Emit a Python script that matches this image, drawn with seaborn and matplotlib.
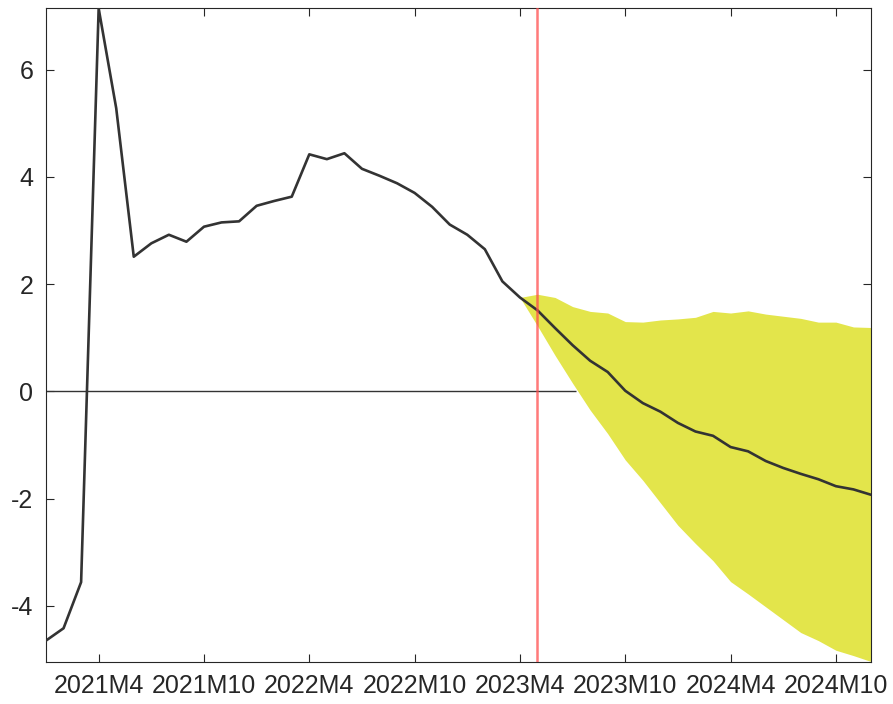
import numpy as np
import pandas as pd
import matplotlib
matplotlib.use("Agg")
import matplotlib.pyplot as plt
import seaborn as sns

# ---- data ----
months = pd.period_range("2021-01", "2024-12", freq="M")
month_labels = [f"{p.year}M{p.month}" for p in months]

series_values = [
    -4.65, -4.42, -3.56, 7.14, 5.28, 2.51, 2.76, 2.92, 2.79, 3.07,
    3.15, 3.17, 3.46, 3.55, 3.63, 4.42, 4.33, 4.44, 4.15, 4.02,
    3.88, 3.70, 3.44, 3.11, 2.92, 2.65, 2.05, 1.75, 1.51, 1.18,
    0.86, 0.57, 0.36, 0.01, -0.22, -0.38, -0.59, -0.75, -0.83, -1.04,
    -1.12, -1.30, -1.43, -1.54, -1.64, -1.77, -1.83, -1.93,
]

band_start = 27  # first month of the fan (2023M4)
band_upper = [
    1.75, 1.81, 1.75, 1.58, 1.49, 1.46, 1.30, 1.29, 1.33, 1.35,
    1.38, 1.49, 1.46, 1.50, 1.44, 1.40, 1.36, 1.29, 1.29, 1.20, 1.19,
]
band_lower = [
    1.75, 1.22, 0.67, 0.15, -0.35, -0.79, -1.28, -1.66, -2.08, -2.50,
    -2.84, -3.16, -3.55, -3.78, -4.02, -4.26, -4.50, -4.65, -4.83, -4.93, -5.04,
]

tick_labels = ["2021M4", "2021M10", "2022M4", "2022M10",
               "2023M4", "2023M10", "2024M4", "2024M10"]
ytick_values = [-4, -2, 0, 2, 4, 6]
forecast_start_label = "2023M5"
zero_line_end_label = "2023M7"

df = pd.DataFrame({"t": np.arange(len(series_values)), "value": series_values,
                   "label": month_labels})
band = pd.DataFrame({"t": np.arange(band_start, band_start + len(band_upper)),
                     "upper": band_upper, "lower": band_lower})

# ---- plot ----
sns.set_style("ticks")
plt.rcParams["font.family"] = ["Liberation Sans", "DejaVu Sans"]

fig = plt.figure(figsize=(8.93, 7.04), dpi=100)
ax = fig.add_axes([46 / 893, 1 - 661.5 / 704, (871 - 46) / 893, (661.5 - 8.5) / 704])

txt = "#262626"
ax.fill_between(band["t"], band["lower"], band["upper"],
                color="#e3e54b", linewidth=0, zorder=1)
ax.hlines(0, 0, month_labels.index(zero_line_end_label) + 0.2,
          color="#333333", linewidth=1.0, zorder=2)
sns.lineplot(data=df, x="t", y="value", ax=ax, color="#333333",
             linewidth=1.9, zorder=3)
ax.axvline(month_labels.index(forecast_start_label), color="#ff4d4d",
           alpha=0.75, linewidth=1.8, zorder=4)

ax.set_xlim(0, len(series_values) - 1)
ax.set_ylim(-5.04, 7.14)
ax.set_xticks([month_labels.index(l) for l in tick_labels])
ax.set_xticklabels(tick_labels)
ax.set_yticks(ytick_values)
ax.set_yticklabels([str(v) for v in ytick_values])
ax.set_xlabel("")
ax.set_ylabel("")

for s in ax.spines.values():
    s.set_visible(True)
    s.set_color(txt)
    s.set_linewidth(0.8)
ax.tick_params(direction="in", length=5.8, width=0.8, color=txt,
               labelsize=18, labelcolor=txt, pad=9,
               top=True, right=True)

fig.savefig("out.png", dpi=100)
